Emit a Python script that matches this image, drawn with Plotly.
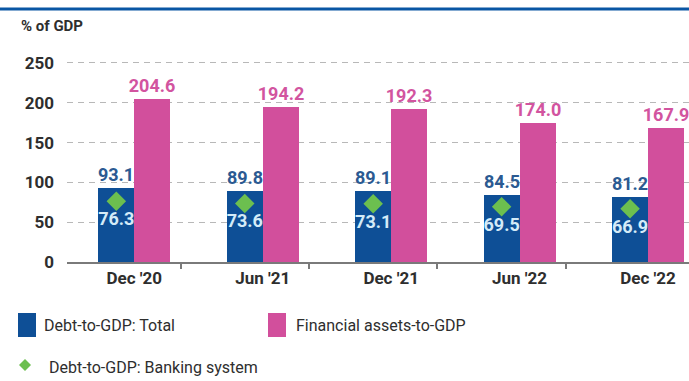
import plotly.graph_objects as go

categories = ["Dec '20", "Jun '21", "Dec '21", "Jun '22", "Dec '22"]
debt_total = [93.1, 89.8, 89.1, 84.5, 81.2]
fin_assets = [204.6, 194.2, 192.3, 174.0, 167.9]
debt_banking = [76.3, 73.6, 73.1, 69.5, 66.9]
y_ticks = [0, 50, 100, 150, 200, 250]

BLUE = "#0e4f96"
PINK = "#d24f9c"
GREEN = "#6cbf4f"
BLUE_TXT = "#2b5a92"
PINK_TXT = "#d2549f"
INNER_TXT = "#d4ebf8"
DARK = "#2e2e2e"
FONT = "Roboto"

# layout geometry (pixels)
W, H = 689, 381
L, R, T, B = 67, 0, 61, 119
PW, PH = W - L - R, H - T - B


def px(x):
    return (x - L) / PW


def py(y):
    return (H - B - y) / PH


idx = list(range(len(categories)))
BW = 0.28

fig = go.Figure()
fig.add_trace(go.Bar(
    x=idx, y=debt_total, name="Debt-to-GDP: Total",
    width=BW, offset=-BW, marker=dict(color=BLUE, line=dict(width=0)),
    text=[f"{v:.1f}" for v in debt_total], textposition="outside",
    constraintext="none", cliponaxis=False,
    outsidetextfont=dict(family=FONT, size=18, color=BLUE_TXT, weight=700),
    showlegend=False,
))
fig.add_trace(go.Bar(
    x=idx, y=fin_assets, name="Financial assets-to-GDP",
    width=BW, offset=0, marker=dict(color=PINK, line=dict(width=0)),
    text=[f"{v:.1f}" for v in fin_assets], textposition="outside",
    constraintext="none", cliponaxis=False,
    outsidetextfont=dict(family=FONT, size=18, color=PINK_TXT, weight=700),
    showlegend=False,
))
fig.add_trace(go.Scatter(
    x=[i - BW / 2 for i in idx], y=debt_banking, name="Debt-to-GDP: Banking system",
    mode="markers+text", marker=dict(symbol="diamond", size=15, color=GREEN),
    text=[f"{v:.1f}" for v in debt_banking], textposition="bottom center",
    textfont=dict(family=FONT, size=18, color=INNER_TXT, weight=700),
    cliponaxis=False, showlegend=False,
))

fig.update_layout(
    width=W, height=H, margin=dict(l=L, r=R, t=T, b=B),
    paper_bgcolor="white", plot_bgcolor="white",
    font=dict(family=FONT, color=DARK),
    bargap=0, showlegend=False,
    xaxis=dict(
        range=[-0.524, 4.319], tickmode="array", tickvals=idx, ticktext=categories,
        ticks="", showgrid=False, zeroline=False,
        showline=True, linecolor="#7a7a7a", linewidth=1.5,
        tickfont=dict(family=FONT, size=17, color=DARK, weight=700),
        minor=dict(tick0=0.36, dtick=1, ticks="outside", ticklen=5,
                   tickcolor="#7a7a7a", tickwidth=1.5, showgrid=False),
        fixedrange=True,
    ),
    yaxis=dict(
        range=[0, 252.5], tickmode="array", tickvals=y_ticks,
        showgrid=True, gridcolor="#b8b8b8", griddash="6px,5px", gridwidth=1,
        zeroline=False, showline=False, ticks="",
        ticklabelstandoff=12,
        tickfont=dict(family=FONT, size=17, color=DARK, weight=700),
        fixedrange=True,
    ),
)

# top rule
fig.add_shape(type="line", xref="paper", yref="paper", x0=px(0), x1=px(W), y0=py(9), y1=py(9),
              line=dict(color="#0a56a4", width=3))

# axis title
fig.add_annotation(text="% of GDP", xref="paper", yref="paper", x=px(19), y=py(26),
                   xanchor="left", yanchor="middle", showarrow=False,
                   font=dict(family=FONT, size=15, color=DARK, weight=700))

# manual legend
legend_font = dict(family=FONT, size=16, color=DARK)
fig.add_shape(type="rect", xref="paper", yref="paper", x0=px(18), x1=px(36), y0=py(337), y1=py(313),
              fillcolor=BLUE, line=dict(width=0))
fig.add_annotation(text=fig.data[0].name, xref="paper", yref="paper", x=px(42), y=py(325),
                   xanchor="left", yanchor="middle", showarrow=False, font=legend_font)
fig.add_shape(type="rect", xref="paper", yref="paper", x0=px(268), x1=px(286), y0=py(337), y1=py(313),
              fillcolor=PINK, line=dict(width=0))
fig.add_annotation(text=fig.data[1].name, xref="paper", yref="paper", x=px(294), y=py(325),
                   xanchor="left", yanchor="middle", showarrow=False, font=legend_font)
fig.add_shape(type="path", xref="paper", yref="paper",
              path=f"M {px(25)} {py(359)} L {px(31)} {py(365)} L {px(25)} {py(371)} L {px(19)} {py(365)} Z",
              fillcolor=GREEN, line=dict(width=0))
fig.add_annotation(text=fig.data[2].name, xref="paper", yref="paper", x=px(47), y=py(367),
                   xanchor="left", yanchor="middle", showarrow=False, font=legend_font)

fig.write_html("out.html")
